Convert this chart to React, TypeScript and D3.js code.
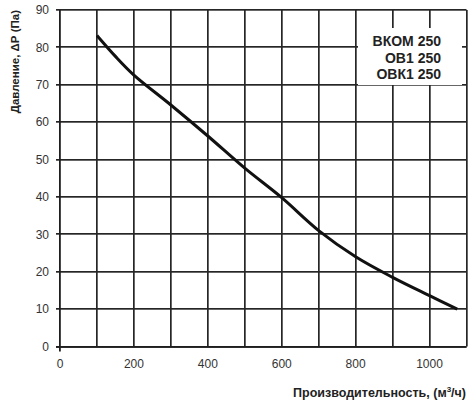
import React, { useEffect } from 'react';
import * as d3 from 'd3';

const flow = [100, 150, 200, 300, 400, 500, 600, 700, 800, 900, 1000, 1075];
const pressure = [83.2, 77.6, 72.6, 64.6, 56.3, 47.7, 39.8, 31.0, 24.0, 18.5, 13.6, 10.0];
const xTicks = [0, 200, 400, 600, 800, 1000];
const yTicks = [0, 10, 20, 30, 40, 50, 60, 70, 80, 90];
const xGrid = [100, 200, 300, 400, 500, 600, 700, 800, 900, 1000, 1100];
const models = ['ВКОМ 250', 'ОВ1 250', 'ОВК1 250'];

const width = 473;
const height = 418;
const margin = { top: 10, right: 6.5, bottom: 71.5, left: 60 };
const font = 'Liberation Sans, Arial, sans-serif';
const gridColor = '#262626';

const App: React.FC = () => {
    useEffect(() => {
        document.body.style.margin = '0';
    }, []);

    const x = d3.scaleLinear().domain([0, 1100]).range([margin.left, width - margin.right]);
    const y = d3.scaleLinear().domain([0, 90]).range([height - margin.bottom, margin.top]);

    const line = d3.line<number>()
        .x((d, i) => x(flow[i]))
        .y((d) => y(d))
        .curve(d3.curveCatmullRom.alpha(0.5));

    return (
        <svg width={width} height={height} style={{ display: 'block' }}>
            {/* grid drawn as thin filled rects */}
            {yTicks.map((t) => (
                <rect key={'h' + t} x={x(0) - 4} y={Math.round(y(t)) - 1} width={x(1100) - x(0) + 4} height={1.7}
                    fill={gridColor} />
            ))}
            {xGrid.map((t) => (
                <rect key={'v' + t} x={Math.round(x(t)) - 1} y={y(90)} width={1.7} height={y(0) - y(90)}
                    fill={gridColor} />
            ))}
            <rect x={Math.round(x(0)) - 1} y={y(90)} width={1.8} height={y(0) - y(90) + 5} fill="#1e1e1e" />
            <rect x={x(0) - 4} y={Math.round(y(0)) - 1} width={x(1100) - x(0) + 4} height={1.8} fill="#1e1e1e" />

            {yTicks.map((t) => (
                <text key={'yl' + t} x={x(0) - 11} y={y(t)} dy="0.36em" textAnchor="end"
                    fontFamily={font} fontSize={12} fill="#333">{t}</text>
            ))}
            {xTicks.map((t) => (
                <text key={'xl' + t} x={x(t)} y={y(0) + 21} textAnchor="middle"
                    fontFamily={font} fontSize={12} fill="#333">{t}</text>
            ))}

            <path d={line(pressure) || ''} fill="none" stroke="#111" strokeWidth={3} />

            <rect x={358} y={28} width={104} height={57} fill="#fff" />
            {models.map((m, i) => (
                <text key={m} x={441} y={46 + i * 16.5} textAnchor="end" fontFamily={font}
                    fontWeight="bold" fontSize={14} fill="#222">{m}</text>
            ))}

            <text transform="translate(18.5,10) rotate(-90)" textAnchor="end" fontFamily={font}
                fontWeight="bold" fontSize={11.5} fill="#222">Давление, ΔР (Па)</text>
            <text x={466} y={396.5} textAnchor="end" fontFamily={font} fontWeight="bold"
                fontSize={12.5} fill="#222">
                <tspan>Производительность, (м</tspan>
                <tspan dy={-5} fontSize={8}>3</tspan>
                <tspan dy={5}>/ч)</tspan>
            </text>
        </svg>
    );
};

export default App;
